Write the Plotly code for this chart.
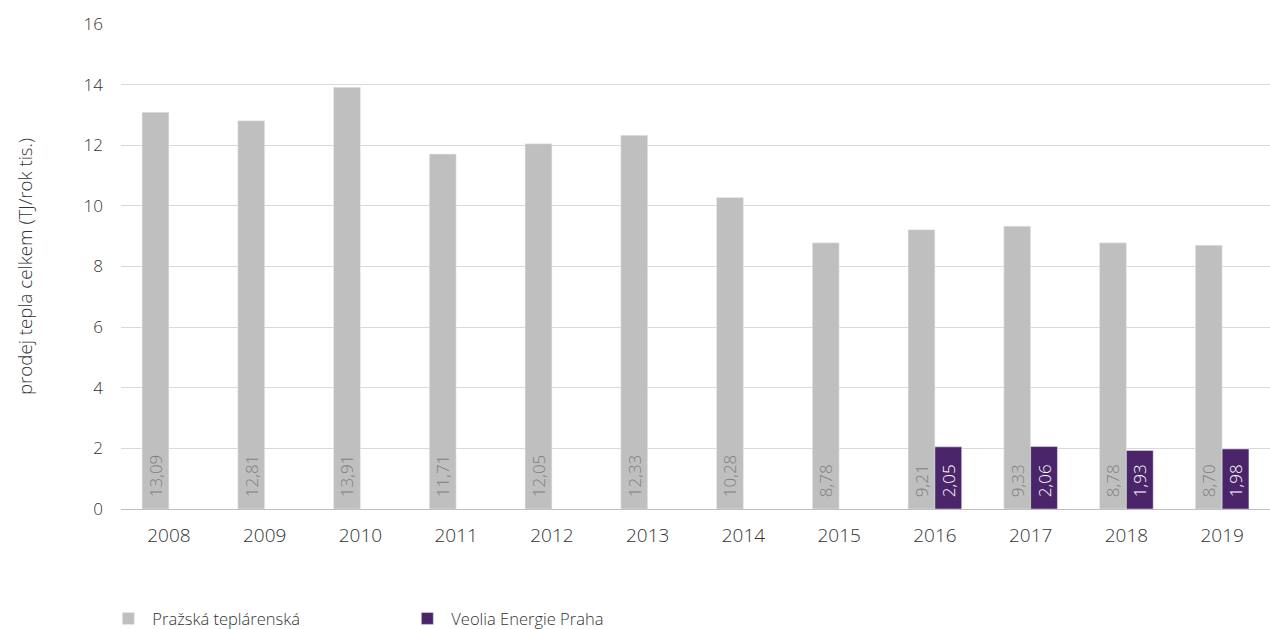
import plotly.graph_objects as go

years = ["2008", "2009", "2010", "2011", "2012", "2013", "2014", "2015",
         "2016", "2017", "2018", "2019"]
prazska = [13.09, 12.81, 13.91, 11.71, 12.05, 12.33, 10.28, 8.78, 9.21, 9.33, 8.78, 8.70]
veolia = [None, None, None, None, None, None, None, None, 2.05, 2.06, 1.93, 1.98]

FONT = "Open Sans"
PAD = "\u00a0" * 2


def fmt(v):
    return "" if v is None else PAD + f"{v:.2f}".replace(".", ",")


fig = go.Figure()
fig.add_trace(go.Bar(
    name="Pražská teplárenská", x=years, y=prazska,
    marker_color="#BFBFBF",
    text=[fmt(v) for v in prazska], textposition="inside",
    insidetextanchor="start", textangle=-90,
    textfont=dict(family=FONT, size=17, color="#7F7F7F", weight=300),
))
fig.add_trace(go.Bar(
    name="Veolia Energie Praha", x=years, y=veolia,
    marker_color="#4B2569",
    text=[fmt(v) for v in veolia], textposition="inside",
    insidetextanchor="start", textangle=-90,
    textfont=dict(family=FONT, size=17, color="#FFFFFF", weight=300),
))

fig.update_layout(
    barmode="group", bargap=0.44, bargroupgap=0,
    width=1270, height=629,
    margin=dict(l=121, r=0, t=24, b=120, autoexpand=False),
    plot_bgcolor="white", paper_bgcolor="white",
    font=dict(family=FONT, size=16, color="#404040", weight=300),
    uniformtext=dict(minsize=17, mode="show"),
    separators=", ",
    xaxis=dict(showgrid=False, ticks="", ticklabelstandoff=13,
               tickfont=dict(size=19, color="#333333", weight=300),
               showline=False),
    yaxis=dict(range=[0, 16], dtick=2, showgrid=True, gridcolor="#D9D9D9",
               gridwidth=1, zeroline=True, zerolinecolor="#BFBFBF", zerolinewidth=1,
               ticks="", ticklabelstandoff=17,
               tickfont=dict(size=17, color="#333333", weight=300),
               title=dict(text="prodej tepla celkem (TJ/rok tis.)", standoff=46,
                          font=dict(size=18.7, color="#333333", weight=300))),
    legend=dict(orientation="h", x=-0.0145, xanchor="left", y=-0.19, yanchor="top",
                itemwidth=38, entrywidth=246, entrywidthmode="pixels",
                font=dict(size=16.5, color="#333333", weight=300), traceorder="normal"),
)

fig.write_html("out.html")
